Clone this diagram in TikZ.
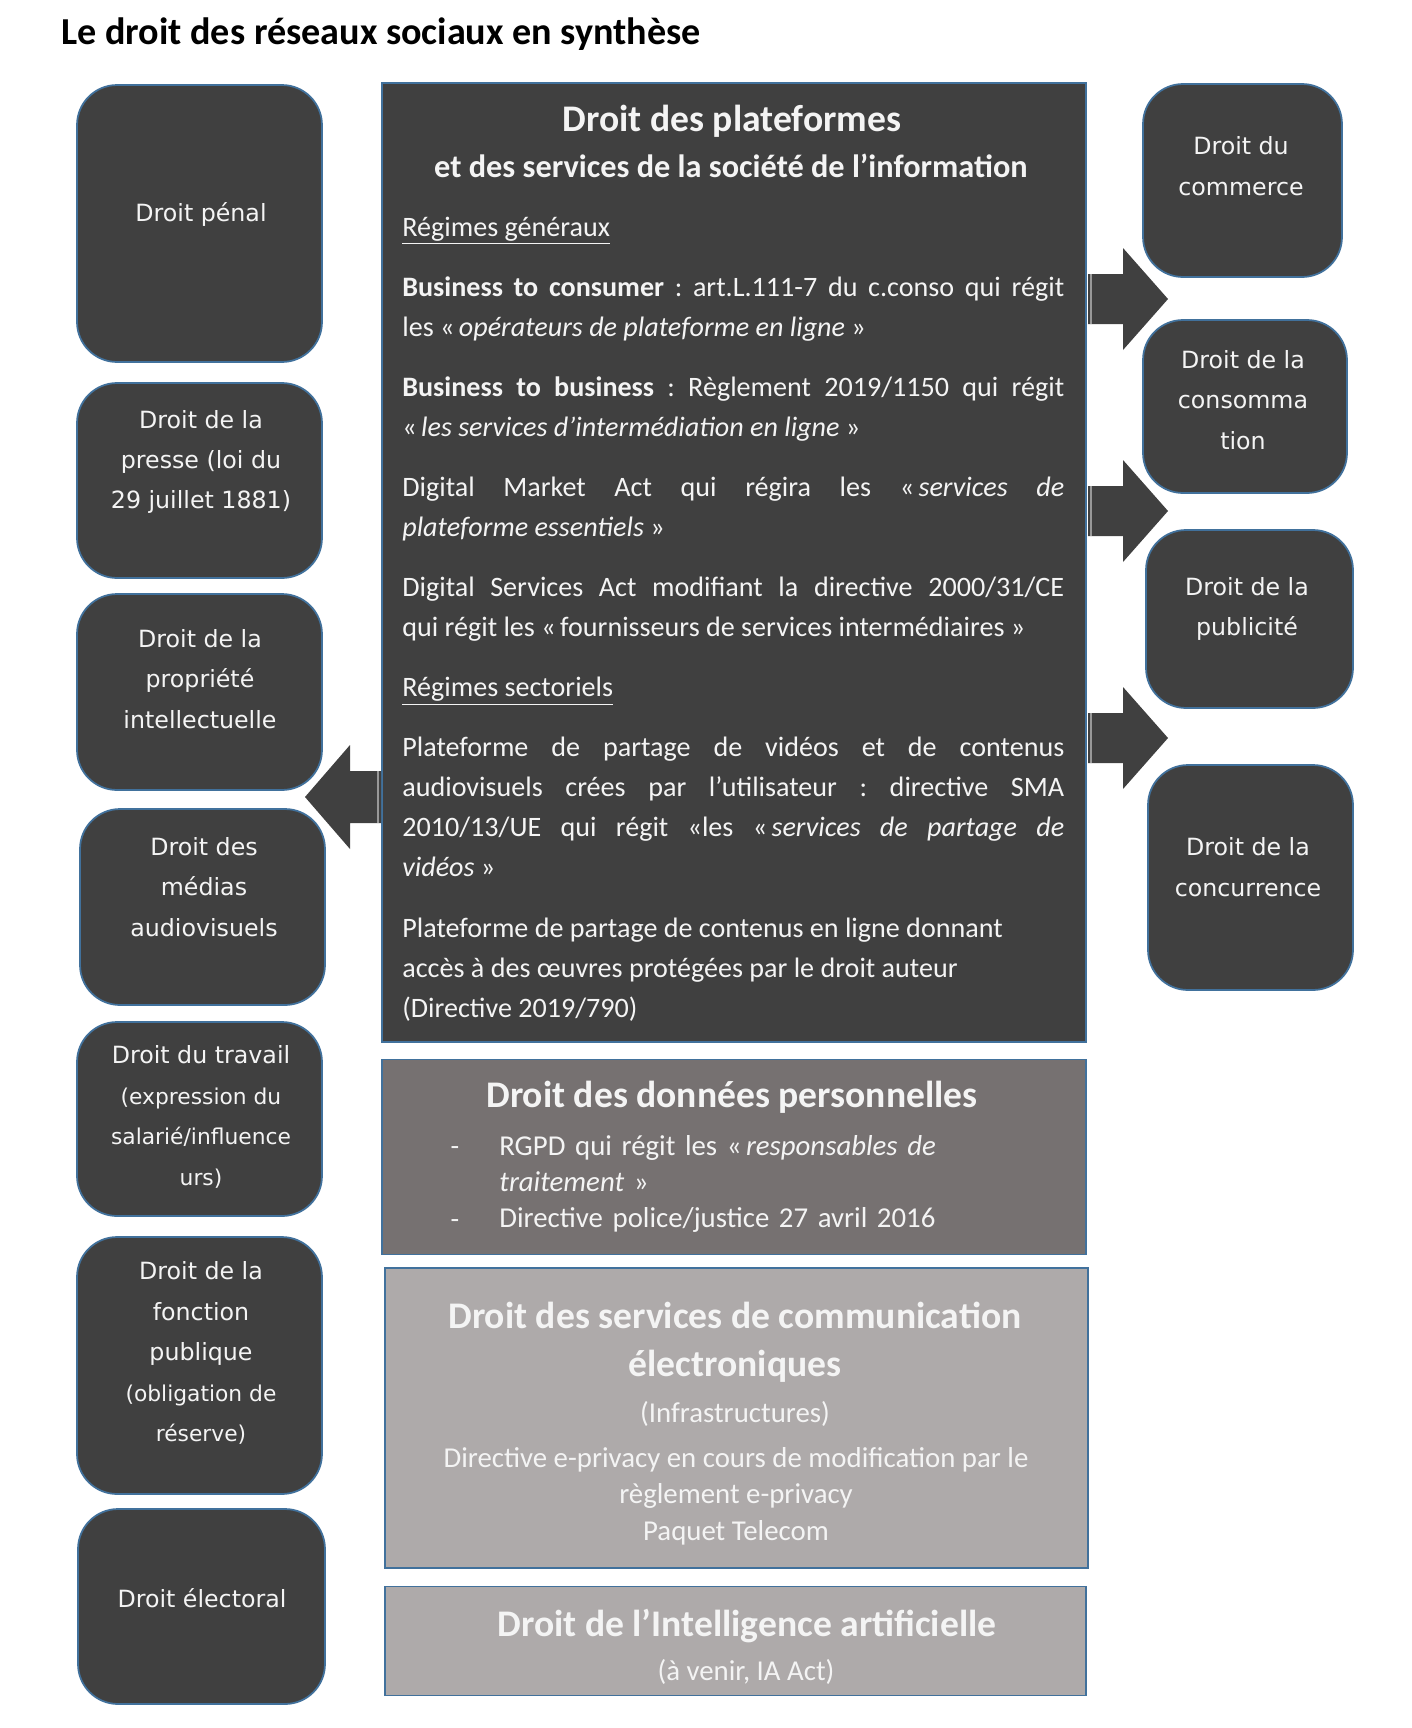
\documentclass[tikz,border=0pt]{standalone}
\usepackage{fontspec}
\setmainfont{Carlito}
\newfontfamily\sidefont{DejaVu Sans}
\definecolor{boxdark}{RGB}{64,64,64}
\definecolor{boxmid}{RGB}{118,113,113}
\definecolor{boxlight}{RGB}{174,170,170}
\definecolor{edgeblue}{RGB}{65,113,156}
\definecolor{txtlight}{RGB}{244,244,244}
\newcommand{\petit}{\fontsize{12.4}{20.5}\selectfont}
\newcommand{\ouvre}{«\nobreak\hspace{2.5pt}}

\tikzset{
  sidebox/.style={draw=edgeblue, line width=1pt, fill=boxdark, rounded corners=0.8cm, inner sep=0pt},
  sidetxt/.style={text=txtlight, align=center, inner sep=0pt, font=\sidefont\fontsize{13.5}{23}\selectfont},
  mainbox/.style={draw=edgeblue, line width=1pt, inner sep=0pt},
  headtxt/.style={text=txtlight, align=center, inner sep=0pt, font=\bfseries\fontsize{21.4}{27}\selectfont},
  bodytxt/.style={text=txtlight, inner sep=0pt, font=\fontsize{16}{22.8}\selectfont},
  blockarrow/.style={fill=boxdark},
  stripe/.style={draw=black!40, line width=1.4pt}
}

\begin{document}
\frenchspacing
\begin{tikzpicture}[x=0.02cm, y=-0.02cm]
    \fill[white] (0,0) rectangle (1412,1728);
    \useasboundingbox (0,0) rectangle (1412,1728);

    % titre
    \node[anchor=west, inner sep=0pt, font=\bfseries\fontsize{21.7}{26}\selectfont] (titre) at (61,34)
        {Le droit des réseaux sociaux en synthèse};

    % colonne centrale
    \node[mainbox, fill=boxdark, minimum width=14.08cm, minimum height=19.18cm] (plat) at (734,562.5) {};
    \node[mainbox, fill=boxmid, minimum width=14.08cm, minimum height=3.9cm] (donnees) at (734,1157) {};
    \node[mainbox, fill=boxlight, minimum width=14.06cm, minimum height=6cm] (comm) at (736.5,1418) {};
    \node[mainbox, fill=boxlight, minimum width=14.02cm, minimum height=2.18cm] (ia) at (735.5,1641) {};

    \node[headtxt] (plattitre) at (732,121) {Droit des plateformes};
    \node[headtxt, font=\bfseries\fontsize{18.4}{22}\selectfont] (platsous) at (731,166)
        {et des services de la société de l’information};
    \node[bodytxt, text width=13.24cm, align=justify, anchor=base west] (platcorps) at (402,236) {%
        \setlength\parskip{11.4pt}\setlength\parindent{0pt}%
        \underline{Régimes généraux}\par
        \textbf{Business to consumer} : art.L.111-7 du c.conso qui régit\linebreak
        les \ouvre\textit{opérateurs de plateforme en ligne} »\par
        \textbf{Business to business} : Règlement 2019/1150 qui régit\linebreak
        \ouvre\textit{les services d’intermédiation en ligne} »\par
        Digital Market Act qui régira les \ouvre\textit{services de}\linebreak
        \textit{plateforme essentiels} »\par
        Digital Services Act modifiant la directive 2000/31/CE\linebreak
        qui régit les \ouvre fournisseurs de services intermédiaires »\par
        \underline{Régimes sectoriels}\par
        Plateforme de partage de vidéos et de contenus\linebreak
        audiovisuels crées par l’utilisateur : directive SMA\linebreak
        2010/13/UE qui régit «les \ouvre\textit{services de partage de}\linebreak
        \textit{vidéos} »\par
        Plateforme de partage de contenus en ligne donnant\\
        accès à des œuvres protégées par le droit auteur\\
        (Directive 2019/790)};

    \node[headtxt] (donneestitre) at (732,1097) {Droit des données personnelles};
    \node[bodytxt, anchor=base] (tiret1) at (455,1155) {-};
    \node[bodytxt, anchor=base] (tiret2) at (455,1228) {-};
    \node[bodytxt, text width=10cm, align=left, anchor=base west, font=\fontsize{16.4}{20.7}\selectfont] (donneescorps) at (499,1155)
        {RGPD qui régit les \ouvre\textit{responsables de}\\
         \textit{traitement} »\\
         Directive police/justice 27 avril 2016};

    \node[headtxt] (commtitre) at (735,1342) {Droit des services de communication\\électroniques};
    \node[bodytxt, font=\fontsize{16.4}{20.7}\selectfont] (infra) at (735,1414) {(Infrastructures)};
    \node[bodytxt, align=center, font=\fontsize{16.4}{20.7}\selectfont] (commcorps) at (736,1496)
        {Directive e-privacy en cours de modification par le\\
         règlement e-privacy\\
         Paquet Telecom};

    \node[headtxt] (iatitre) at (747,1626) {Droit de l’Intelligence artificielle};
    \node[bodytxt, font=\fontsize{16.4}{20.7}\selectfont] (iasous) at (746,1672) {(à venir, IA Act)};

    % colonne de gauche
    \node[sidebox, minimum width=4.9cm, minimum height=5.54cm] (penal) at (199.5,223.5) {};
    \node[sidebox, minimum width=4.9cm, minimum height=3.9cm] (presse) at (199.5,480.5) {};
    \node[sidebox, minimum width=4.9cm, minimum height=3.92cm] (propriete) at (199.5,692) {};
    \node[sidebox, minimum width=4.9cm, minimum height=3.92cm] (medias) at (202.5,907) {};
    \node[sidebox, minimum width=4.9cm, minimum height=3.88cm] (travail) at (199.5,1119) {};
    \node[sidebox, minimum width=4.9cm, minimum height=5.14cm] (fonction) at (199.5,1365.5) {};
    \node[sidebox, minimum width=4.94cm, minimum height=3.9cm] (electoral) at (201.5,1606.5) {};

    \node[sidetxt] (penaltxt) at (201,214) {Droit pénal};
    \node[sidetxt] (pressetxt) at (201,462) {Droit de la\\presse (loi du\\29 juillet 1881)};
    \node[sidetxt] (proprietetxt) at (200,679) {Droit de la\\propriété\\intellectuelle};
    \node[sidetxt] (mediastxt) at (204,887) {Droit des\\médias\\audiovisuels};
    \node[sidetxt] (travailtxt) at (201,1117)
        {Droit du travail\\{\petit (expression du}\\{\petit salarié/influence}\\{\petit urs)}};
    \node[sidetxt] (fonctiontxt) at (201,1353)
        {Droit de la\\fonction\\publique\\{\petit (obligation de}\\{\petit réserve)}};
    \node[sidetxt] (electoraltxt) at (202,1598) {Droit électoral};

    % colonne de droite
    \node[sidebox, minimum width=3.98cm, minimum height=3.86cm] (commerce) at (1242.5,180.5) {};
    \node[sidebox, minimum width=4.08cm, minimum height=3.46cm] (conso) at (1245,406.5) {};
    \node[sidebox, minimum width=4.14cm, minimum height=3.56cm] (pub) at (1249.5,619) {};
    \node[sidebox, minimum width=4.1cm, minimum height=4.5cm] (concu) at (1250.5,877.5) {};

    \node[sidetxt] (commercetxt) at (1241,166) {Droit du\\commerce};
    \node[sidetxt] (consotxt) at (1243,400) {Droit de la\\consomma\\tion};
    \node[sidetxt] (pubtxt) at (1247,609) {Droit de la\\publicité};
    \node[sidetxt] (concutxt) at (1248,867) {Droit de la\\concurrence};

    % fleches pleines
    \foreach \ty in {299,511,738} {
        \fill[blockarrow] (1088,\ty-25) -- (1123,\ty-25) -- (1123,\ty-51) -- (1168,\ty)
            -- (1123,\ty+51) -- (1123,\ty+25) -- (1088,\ty+25) -- cycle;
        \draw[stripe] (1091,\ty-25) -- (1091,\ty+25);
    }
    \fill[blockarrow] (381,771) -- (350,771) -- (350,745) -- (305,797)
        -- (350,849) -- (350,823) -- (381,823) -- cycle;
    \draw[stripe] (378,771) -- (378,823);
\end{tikzpicture}
\end{document}
